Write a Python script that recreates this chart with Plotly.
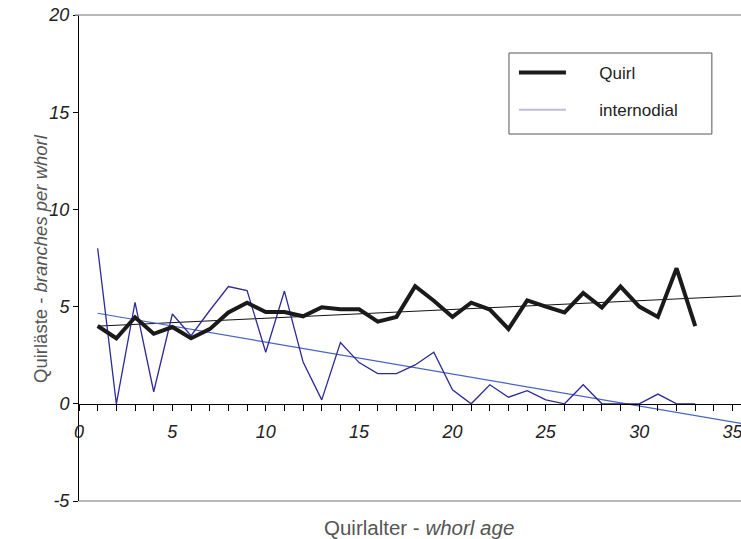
import numpy as np
import plotly.graph_objects as go

whorl_age = list(range(1, 34))
quirl = [4.0, 3.37, 4.45, 3.6, 3.95, 3.37, 3.84, 4.7, 5.2, 4.72, 4.72, 4.5, 4.97, 4.86, 4.86,
         4.23, 4.47, 6.05, 5.3, 4.47, 5.2, 4.85, 3.85, 5.32, 5.0, 4.7, 5.7, 4.95, 6.03, 5.0,
         4.47, 6.97, 4.0]
internodial = [8.0, 0.0, 5.22, 0.62, 4.62, 3.5, 4.8, 6.03, 5.82, 2.65, 5.8, 2.15, 0.2, 3.15,
               2.12, 1.55, 1.55, 2.0, 2.65, 0.72, 0.0, 0.98, 0.34, 0.68, 0.2, 0.0, 0.98, 0.0,
               0.0, 0.0, 0.5, 0.0, 0.0]
trend_x = [1, 36]
x_ticks = [0, 5, 10, 15, 20, 25, 30, 35]
y_ticks = [-5, 0, 5, 10, 15, 20]
y_tick_text = ["-5", "0", "5", "10", "15", "20"]
series_names = ["Quirl", "internodial"]

FONT = "Liberation Sans, Arial, sans-serif"
PAD = "\u00a0" * 6

def trend(xs, ys, xe):
    k, b = np.polyfit(xs, ys, 1)
    return [k * v + b for v in xe]

fig = go.Figure()
fig.add_trace(go.Scatter(x=trend_x, y=trend(whorl_age, quirl, trend_x), mode="lines",
                         line=dict(color="#111111", width=1), showlegend=False, hoverinfo="skip"))
fig.add_trace(go.Scatter(x=trend_x, y=trend(whorl_age, internodial, trend_x), mode="lines",
                         line=dict(color="#4a62c4", width=1.2), showlegend=False, hoverinfo="skip"))
fig.add_trace(go.Scatter(x=whorl_age, y=internodial, mode="lines",
                         line=dict(color="#2e2a9a", width=1.3), showlegend=False))
fig.add_trace(go.Scatter(x=whorl_age, y=quirl, mode="lines", name=PAD + series_names[0],
                         line=dict(color="#1a1a1a", width=4), legendgroup="a"))
fig.add_trace(go.Scatter(x=[None], y=[None], mode="lines", name=PAD + series_names[1],
                         line=dict(color="#c0bcd4", width=2), legendgroup="b"))

fig.update_layout(
    width=741, height=539,
    margin=dict(l=79, r=0, t=15, b=38),
    paper_bgcolor="white", plot_bgcolor="white",
    font=dict(family=FONT, color="#222222"),
    xaxis=dict(range=[0, 35.45], tickvals=x_ticks, ticks="outside", ticklen=6,
               tickcolor="black", showline=True, linecolor="black", linewidth=1,
               showgrid=False, zeroline=False, anchor="free", position=0.2,
               automargin=False, ticklabelstandoff=6, ticklabeloverflow="allow",
               tickfont=dict(size=18, style="italic", color="#222222"),
               minor=dict(dtick=1, ticks="outside", ticklen=6, tickcolor="black", showgrid=False)),
    yaxis=dict(range=[-5, 20], tickvals=y_ticks, ticktext=y_tick_text, ticks="outside", ticklen=5,
               tickcolor="black", showline=True, linecolor="black", linewidth=1,
               showgrid=False, zeroline=False, domain=[0, 1], automargin=False,
               ticklabeloverflow="allow",
               tickfont=dict(size=18, style="italic", color="#222222")),
    legend=dict(x=0.657, y=0.9177, xanchor="left", yanchor="top",
                borderwidth=0, bgcolor="rgba(0,0,0,0)",
                font=dict(size=17, color="#222222"), traceorder="grouped",
                tracegroupgap=12, itemwidth=47),
    shapes=[
        dict(type="line", xref="paper", x0=-0.006, x1=1, yref="paper", y0=1, y1=1,
             line=dict(color="#a0a0a0", width=1.5)),
        dict(type="line", xref="paper", x0=0, x1=1, yref="paper", y0=0, y1=0,
             line=dict(color="#a0a0a0", width=1.5)),
        dict(type="rect", xref="paper", x0=0.6495, x1=0.956, yref="paper", y0=0.7551, y1=0.9218,
             line=dict(color="#555555", width=1), fillcolor="white", layer="above"),
    ],
    annotations=[
        dict(text="Quirläste - <i>branches per whorl</i>", xref="paper", yref="paper",
             x=-0.059, y=0.5, textangle=-90, showarrow=False, xanchor="center", yanchor="middle",
             font=dict(size=18.5, color="#555555")),
        dict(text="Quirlalter - <i>whorl age</i>", xref="paper", yref="paper",
             x=0.514, y=-0.0535, showarrow=False, xanchor="center", yanchor="middle",
             font=dict(size=20.5, color="#555555")),
    ],
)

fig.write_html("out.html", config={"displayModeBar": False},
               post_script="document.body.style.margin='0px';document.body.style.overflow='hidden';")
